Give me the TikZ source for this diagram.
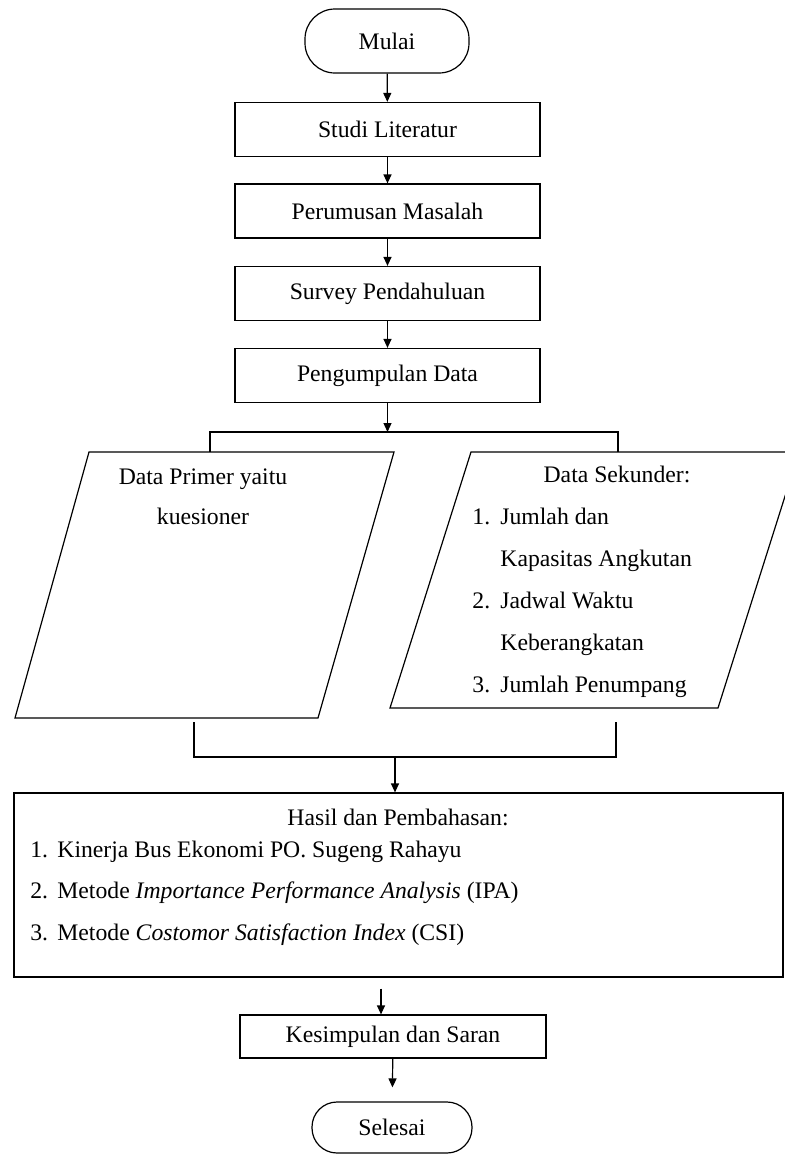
\documentclass[tikz,border=0pt]{standalone}
\usepackage{fontspec}
\setmainfont{Liberation Serif}
\usetikzlibrary{arrows.meta,calc}

\begin{document}
\begin{tikzpicture}[x=0.5pt,y=-0.5pt,
    font=\fontsize{11.85pt}{14pt}\selectfont,
    box/.style={draw, line width=0.6pt, minimum width=152.5pt, minimum height=27pt, inner sep=0pt},
    term/.style={draw, line width=0.6pt, rounded corners=15pt, minimum width=82pt, minimum height=32pt, inner sep=0pt},
    txt/.style={inner sep=0pt, align=left, font=\fontsize{11.85pt}{21pt}\selectfont},
    conn/.style={line width=0.6pt},
    arr/.style={conn, -{Triangle[width=4pt,length=4.5pt]}}
  ]
  \useasboundingbox (0,0) rectangle (784,1158);

  \node [term] (mulai) at (387,41) {Mulai};
  \node [box] (studi) at (387.5,129.5) {Studi Literatur};
  \node [box] (rumus) at (387.5,211) {Perumusan Masalah};
  \node [box] (survey) at (387.5,293.5) {Survey Pendahuluan};
  \node [box] (kumpul) at (387.5,375.5) {Pengumpulan Data};

  % data primer dan sekunder
  \coordinate (primer-nw) at (89,452);
  \coordinate (primer-ne) at (394,452);
  \coordinate (primer-se) at (318,718);
  \coordinate (primer-sw) at (15,718);
  \draw [conn] (primer-nw) -- (primer-ne) -- (primer-se) -- (primer-sw) -- cycle;
  \coordinate (sek-nw) at (471,452);
  \coordinate (sek-ne) at (799,452);
  \coordinate (sek-se) at (718,708);
  \coordinate (sek-sw) at (390,708);
  \draw [conn] (sek-nw) -- (sek-ne) -- (sek-se) -- (sek-sw) -- cycle;

  \node [txt, align=center, anchor=base, font=\fontsize{11.85pt}{20pt}\selectfont] (primertext) at (203,524)
    {Data Primer yaitu\\kuesioner};
  \node [inner sep=0pt, anchor=base] (sektitle) at (617,482) {Data Sekunder:};
  \node [txt, anchor=base west] (sekitems) at (472,692)
    {\makebox[14pt][l]{1.}Jumlah dan\\
     \hspace*{14pt}Kapasitas Angkutan\\
     \makebox[14pt][l]{2.}Jadwal Waktu\\
     \hspace*{14pt}Keberangkatan\\
     \makebox[14pt][l]{3.}Jumlah Penumpang};

  % hasil
  \node [box, minimum width=384.5pt, minimum height=92pt] (hasil) at (398.5,885) {};
  \node [inner sep=0pt, anchor=base] (hasiltitle) at (398,825) {Hasil dan Pembahasan:};
  \node [txt, anchor=base west, font=\fontsize{11.85pt}{20.75pt}\selectfont] (hasilitems) at (30,940)
    {\makebox[13.5pt][l]{1.}Kinerja Bus Ekonomi PO. Sugeng Rahayu\\
     \makebox[13.5pt][l]{2.}Metode \textit{Importance Performance Analysis} (IPA)\\
     \makebox[13.5pt][l]{3.}Metode \textit{Costomor Satisfaction Index} (CSI)};

  \node [box, minimum width=153pt, minimum height=21.5pt] (simpul) at (393,1036.5) {Kesimpulan dan Saran};
  \node [term, rounded corners=12.5pt, minimum width=80pt, minimum height=25.5pt] (selesai) at (392,1127.5) {Selesai};

  \coordinate (split) at (387.5,432);
  \coordinate (splitL) at (210,432);
  \coordinate (splitR) at (618,432);
  \coordinate (mergeL) at (194,722);
  \coordinate (mergeR) at (616,722);
  \coordinate (merge) at (395,757);

  \draw [arr] (mulai) -- (studi);
  \draw [arr] (studi) -- (rumus);
  \draw [arr] (rumus) -- (survey);
  \draw [arr] (survey) -- (kumpul);
  \draw [arr] (kumpul) -- (split);
  \draw [conn] (splitL |- primer-nw) -- (splitL) -- (splitR) -- (splitR |- sek-nw);
  \draw [conn] (mergeL) -- (mergeL |- merge) -- (mergeR |- merge) -- (mergeR);
  \draw [arr] (merge) -- (merge |- hasil.north);
  \draw [arr, shorten <=5.5pt] ([xshift=-6pt]simpul.north |- hasil.south) -- ([xshift=-6pt]simpul.north);
  \draw [arr, shorten >=7pt] (simpul) -- (selesai);
\end{tikzpicture}
\end{document}
